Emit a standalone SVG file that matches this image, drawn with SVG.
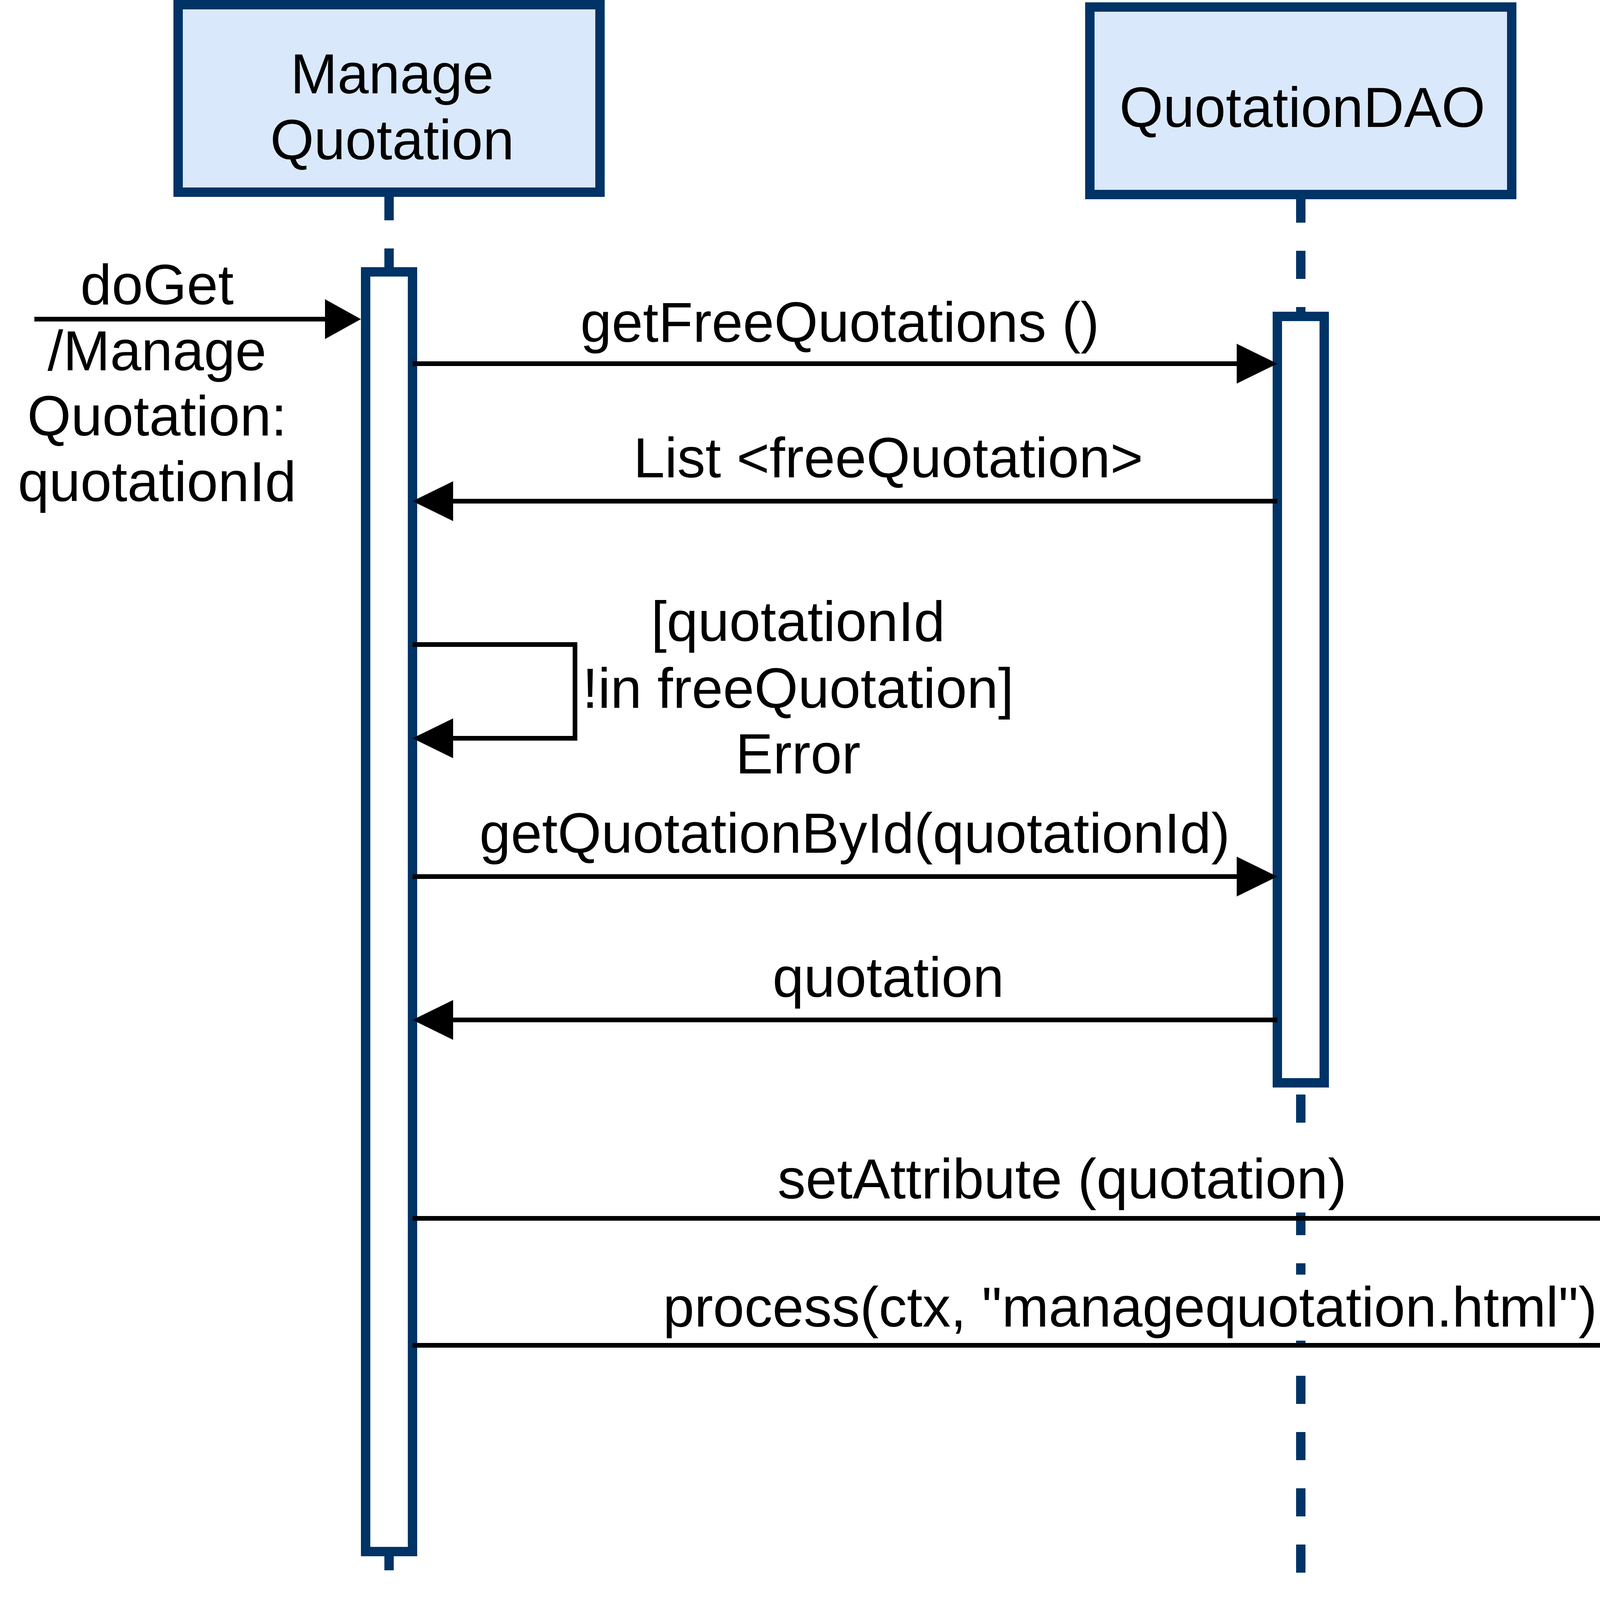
<svg xmlns="http://www.w3.org/2000/svg" width="6768" height="4116" viewBox="0 0 6768 4116">
<style>
.box{fill:#dae8fc;stroke:#003366;stroke-width:24}
.act{fill:#ffffff;stroke:#003366;stroke-width:24}
.life{fill:none;stroke:#003366;stroke-width:24;stroke-dasharray:72 72}
.msg{fill:none;stroke:#000000;stroke-width:12;stroke-linejoin:miter}
.t{font-family:"Liberation Sans",Arial,sans-serif;font-size:144px;fill:#000000;text-anchor:middle}
.lblbg{fill:#ffffff;stroke:none}
</style>
<defs>
<marker id="hl" markerUnits="userSpaceOnUse" markerWidth="110" markerHeight="110" refX="0" refY="51" orient="auto" overflow="visible">
<path d="M0,0 L104,51 L0,102 Z" fill="#000000"/>
</marker>
<marker id="hs" markerUnits="userSpaceOnUse" markerWidth="100" markerHeight="110" refX="0" refY="51" orient="auto" overflow="visible">
<path d="M0,0 L92,51 L0,102 Z" fill="#000000"/>
</marker>
</defs>
<rect x="0" y="0" width="6768" height="4116" fill="#ffffff"/>

<g id="node-manage-quotation">
<path class="life" d="M996,492 V4020"/>
<rect class="box" x="456" y="12" width="1080" height="480"/>
<text class="t" x="1004" y="239">Manage</text>
<text class="t" x="1004" y="408">Quotation</text>
</g>

<g id="node-quotationdao">
<path class="life" d="M3330,498 V4026"/>
<rect class="box" x="2790" y="18" width="1080" height="480"/>
<text class="t" x="3334" y="325">QuotationDAO</text>
</g>

<g id="node-ctx">
<path class="life" d="M4710,504 V4032"/>
<rect class="box" x="4170" y="24" width="1080" height="480"/>
<text class="t" x="4713" y="336">Ctx</text>
</g>

<g id="node-template-engine">
<path class="life" d="M6148,498 V4026"/>
<rect class="box" x="5548" y="18" width="1200" height="480"/>
<text class="t" x="6142" y="324">Template Engine</text>
</g>

<g id="act-manage-quotation">
<rect class="act" x="936" y="696" width="120" height="3276"/>
</g>
<g id="act-quotationdao">
<rect class="act" x="3270" y="810" width="120" height="1962"/>
</g>
<g id="act-ctx">
<rect class="act" x="4650" y="2970" width="120" height="288"/>
</g>
<g id="act-template-engine">
<rect class="act" x="6088" y="3330" width="120" height="240"/>
</g>

<g id="connectors">
<g id="msg-doget">
<path class="msg" d="M88,817 H832" marker-end="url(#hs)"/>
<text class="t" x="402" y="779">doGet</text>
<text class="t" x="402" y="948">/Manage</text>
<text class="t" x="402" y="1115">Quotation:</text>
<text class="t" x="402" y="1283">quotationId</text>
</g>
<g id="msg-getfreequotations">
<path class="msg" d="M1056,931 H3166" marker-end="url(#hl)"/>
<text class="t" x="2150" y="875">getFreeQuotations ()</text>
</g>
<g id="msg-list">
<path class="msg" d="M3270,1283 H1160" marker-end="url(#hl)"/>
<text class="t" x="2274" y="1222">List &lt;freeQuotation&gt;</text>
</g>
<g id="msg-self-error">
<path class="msg" d="M1056,1650 H1472 V1890 H1160" marker-end="url(#hl)"/>
<text class="t" x="2043" y="1641">[quotationId</text>
<text class="t" x="2043" y="1812">!in freeQuotation]</text>
<text class="t" x="2043" y="1980">Error</text>
</g>
<g id="msg-getquotationbyid">
<path class="msg" d="M1056,2244 H3166" marker-end="url(#hl)"/>
<text class="t" x="2188" y="2183">getQuotationById(quotationId)</text>
</g>
<g id="msg-quotation">
<path class="msg" d="M3270,2611 H1160" marker-end="url(#hl)"/>
<text class="t" x="2274" y="2552">quotation</text>
</g>
<g id="msg-setattribute">
<path class="msg" d="M1056,3119 H4547" marker-end="url(#hs)"/>
<rect class="lblbg" x="1990" y="2935" width="1458" height="169"/>
<text class="t" x="2719" y="3068">setAttribute (quotation)</text>
</g>
<g id="msg-process">
<path class="msg" d="M1056,3444 H5984" marker-end="url(#hs)"/>
<rect class="lblbg" x="1698" y="3263" width="2390" height="169"/>
<text class="t" x="2893" y="3396">process(ctx, "managequotation.html")</text>
</g>
</g>
</svg>
